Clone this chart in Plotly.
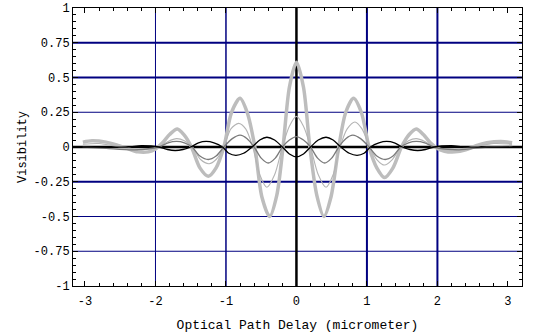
import plotly.graph_objects as go

# ---- data ----
A_x = [-3.03, -2.9, -2.7, -2.55, -2.4, -2.25, -2.1, -2.0, -1.9, -1.8, -1.69, -1.6, -1.49, -1.37, -1.25, -1.14, -1.03,
       -0.92, -0.8, -0.7, -0.59, -0.49, -0.38, -0.28, -0.19, -0.1,
       0.0, 0.1, 0.19, 0.29, 0.39, 0.49, 0.6, 0.7, 0.81, 0.92, 1.03, 1.14, 1.25, 1.37, 1.49, 1.6, 1.7,
       1.8, 1.9, 2.0, 2.1, 2.25, 2.4, 2.55, 2.7, 2.9, 3.06]
A_y = [0.035, 0.045, 0.035, 0.015, -0.01, -0.035, -0.035, -0.015, 0.03, 0.09, 0.13, 0.09, 0.0, -0.15, -0.21, -0.15, 0.0,
       0.25, 0.35, 0.25, 0.0, -0.36, -0.5, -0.35, 0.0, 0.43,
       0.61, 0.43, 0.0, -0.35, -0.5, -0.36, 0.0, 0.25, 0.35, 0.25, 0.0, -0.15, -0.22, -0.15, 0.0, 0.09, 0.13,
       0.09, 0.03, -0.01, -0.03, -0.035, -0.02, 0.01, 0.03, 0.04, 0.03]

B_x = [-3.03, -2.8, -2.5, -2.2, -1.95, -1.82, -1.7, -1.59, -1.48, -1.36, -1.24, -1.14, -1.03, -0.93, -0.82, -0.72,
       -0.62, -0.52, -0.42, -0.31, -0.2, -0.1,
       0.0, 0.1, 0.2, 0.31, 0.42, 0.52, 0.62, 0.72, 0.83, 0.93, 1.04, 1.14, 1.25, 1.36, 1.48, 1.59, 1.7,
       1.82, 1.95, 2.2, 2.5, 2.8, 3.06]
B_y = [0.02, 0.025, 0.0, -0.02, 0.0, 0.04, 0.06, 0.045, 0.0, -0.09, -0.12, -0.09, 0.0, 0.13, 0.17, 0.13,
       0.0, -0.2, -0.29, -0.2, 0.0, 0.15,
       0.22, 0.15, 0.0, -0.2, -0.29, -0.2, 0.0, 0.13, 0.18, 0.13, 0.0, -0.09, -0.13, -0.09, 0.0, 0.045, 0.06,
       0.04, 0.0, -0.02, 0.0, 0.025, 0.02]

C_x = [-3.03, -2.7, -2.3, -1.95, -1.82, -1.7, -1.59, -1.48, -1.37, -1.25, -1.14, -1.03, -0.91, -0.8, -0.7,
       -0.6, -0.5, -0.4, -0.3, -0.2, -0.1,
       0.0, 0.1, 0.2, 0.3, 0.4, 0.5, 0.6, 0.7, 0.8, 0.91, 1.03, 1.14, 1.26, 1.37, 1.48, 1.59, 1.7,
       1.82, 1.95, 2.3, 2.7, 3.06]
C_y = [0.0, -0.01, -0.02, 0.0, 0.03, 0.04, 0.03, 0.0, -0.065, -0.09, -0.065, 0.0, 0.06, 0.085, 0.06,
       0.0, -0.08, -0.115, -0.08, 0.0, 0.05,
       0.075, 0.05, 0.0, -0.08, -0.115, -0.08, 0.0, 0.06, 0.085, 0.06, 0.0, -0.065, -0.09, -0.065, 0.0, 0.03, 0.04,
       0.03, 0.0, -0.02, 0.0, 0.005]

D_x = [-3.03, -2.4, -2.2, -1.95, -1.83, -1.72, -1.61, -1.5, -1.39, -1.28, -1.17, -1.05, -0.96, -0.86, -0.75,
       -0.63, -0.52, -0.42, -0.31, -0.2, -0.1,
       0.0, 0.1, 0.2, 0.31, 0.42, 0.52, 0.63, 0.75, 0.86, 0.96, 1.05, 1.17, 1.28, 1.39, 1.5, 1.61, 1.72,
       1.83, 1.95, 2.2, 2.4, 3.06]
D_y = [0.0, 0.0, 0.01, 0.0, -0.018, -0.025, -0.018, 0.0, 0.03, 0.04, 0.03, 0.0, -0.045, -0.06, -0.045,
       0.0, 0.05, 0.07, 0.05, 0.0, -0.05,
       -0.07, -0.05, 0.0, 0.05, 0.07, 0.05, 0.0, -0.045, -0.06, -0.045, 0.0, 0.03, 0.04, 0.03, 0.0, -0.018, -0.025,
       -0.018, 0.0, 0.01, 0.0, 0.0]

X_TICKS = [-3, -2, -1, 0, 1, 2, 3]
X_TICK_TEXT = ["-3", "-2", "-1", "0", "1", "2", "3"]
Y_TICKS = [-1, -0.75, -0.5, -0.25, 0, 0.25, 0.5, 0.75, 1]
Y_TICK_TEXT = ["-1", "-0.75", "-0.5", "-0.25", "0", "0.25", "0.5", "0.75", "1"]

GRID_X = [-2, -1, 1, 2]
GRID_X_W = [1, 1.5, 2, 2]
GRID_Y = [-0.75, -0.5, -0.25, 0.25, 0.5, 0.75]
GRID_Y_W = [1, 1, 2, 1, 2, 2]

X_TITLE = "Optical Path Delay (micrometer)"
Y_TITLE = "Visibility"

FONT = "Liberation Mono, Courier New, monospace"
NAVY = "#000080"

fig = go.Figure()
series = [
    (A_x, A_y, "#bdbdbd", 3.5),
    (B_x, B_y, "#b4b4b4", 1.1),
    (C_x, C_y, "#7a7a7a", 1.3),
    (D_x, D_y, "#000000", 1.3),
]
for xs, ys, col, w in series:
    fig.add_trace(go.Scatter(x=xs, y=ys, mode="lines",
                             line=dict(color=col, width=w, shape="spline", smoothing=0.8),
                             showlegend=False, hoverinfo="skip"))

shapes = []
for gx, w in zip(GRID_X, GRID_X_W):
    shapes.append(dict(type="line", xref="x", yref="paper", x0=gx, x1=gx, y0=0, y1=1,
                       line=dict(color=NAVY, width=w), layer="below"))
for gy, w in zip(GRID_Y, GRID_Y_W):
    shapes.append(dict(type="line", xref="paper", yref="y", x0=0, x1=1, y0=gy, y1=gy,
                       line=dict(color=NAVY, width=w), layer="below"))
# zero axes
shapes.append(dict(type="line", xref="x", yref="paper", x0=0, x1=0, y0=0, y1=1,
                   line=dict(color="black", width=2.5), layer="below"))
shapes.append(dict(type="line", xref="paper", yref="y", x0=0, x1=1, y0=0, y1=0,
                   line=dict(color="black", width=2.5), layer="below"))

fig.update_layout(
    width=542, height=334,
    margin=dict(l=73, r=20, t=8, b=48, autoexpand=False),
    paper_bgcolor="white", plot_bgcolor="white",
    font=dict(family=FONT, size=12, color="black"),
    shapes=shapes,
    xaxis=dict(range=[-3.17, 3.2], tickvals=X_TICKS, ticktext=X_TICK_TEXT, automargin=False,
               showgrid=False, zeroline=False, showline=True, linecolor="black", linewidth=1,
               mirror="allticks", ticks="inside", ticklen=5, tickcolor="black",
               ticklabelstandoff=4,
               minor=dict(dtick=0.2, tick0=0, ticks="inside", ticklen=3, tickcolor="black", showgrid=False),
               title=dict(text=X_TITLE, font=dict(family=FONT, size=13), standoff=11),
               tickfont=dict(family=FONT, size=12)),
    yaxis=dict(range=[-1, 1], tickvals=Y_TICKS, ticktext=Y_TICK_TEXT, automargin=False,
               showgrid=False, zeroline=False, showline=True, linecolor="black", linewidth=1,
               mirror="allticks", ticks="inside", ticklen=5, tickcolor="black",
               minor=dict(dtick=0.05, tick0=0, ticks="inside", ticklen=3, tickcolor="black", showgrid=False),
               title=dict(text=Y_TITLE, font=dict(family=FONT, size=12), standoff=4),
               tickfont=dict(family=FONT, size=12)),
)

fig.write_html("out.html", config={"displayModeBar": False},
               post_script="document.body.style.margin='0';document.body.style.overflow='hidden';")
